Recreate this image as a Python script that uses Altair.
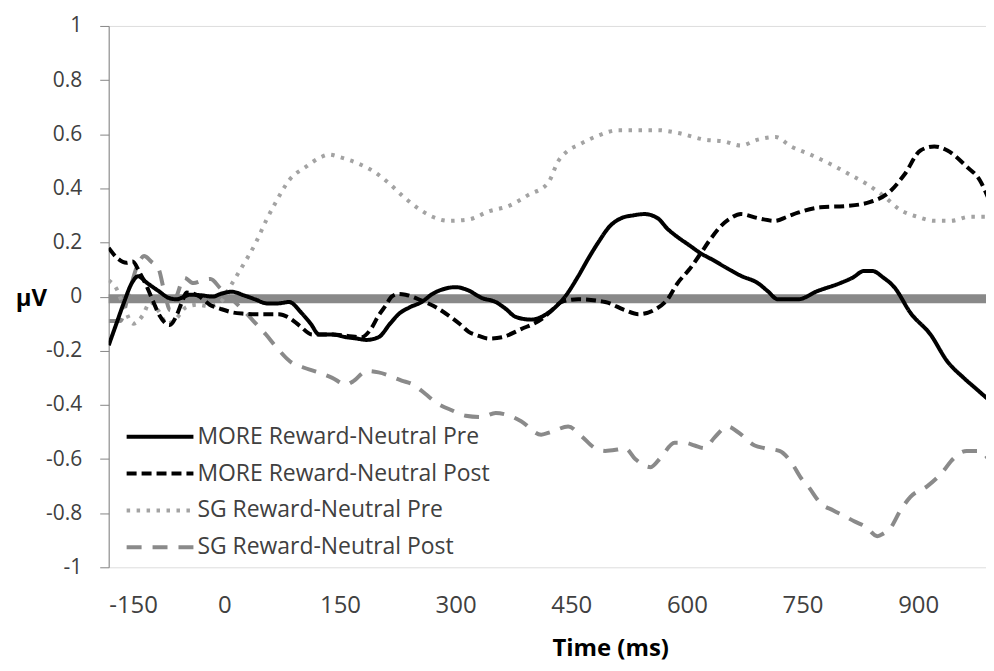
import altair as alt
import pandas as pd

SERIES = ["MORE Reward-Neutral Pre", "MORE Reward-Neutral Post",
          "SG Reward-Neutral Pre", "SG Reward-Neutral Post"]
COLORS = ["#000000", "#000000", "#a3a3a3", "#8a8a8a"]
DASHES = [[1, 0], [10, 5], [3.5, 6.5], [15, 11]]

X_TICKS = [-150, 0, 150, 300, 450, 600, 750, 900]
Y_TICKS = [-1, -0.8, -0.6, -0.4, -0.2, 0, 0.2, 0.4, 0.6, 0.8, 1]
AXIS_LINE_VALUE = [-0.008]

more_pre = [(-150, -0.18), (-140, -0.1), (-130, -0.02), (-120, 0.05), (-112, 0.075), (-100, 0.05),
            (-85, 0.02), (-72, -0.005), (-62, -0.01), (-52, 0.0), (-45, 0.007), (-30, 0.005),
            (-15, 0.0), (-5, 0.01), (10, 0.018), (25, 0.005), (40, -0.01), (55, -0.025),
            (70, -0.025), (84, -0.02), (100, -0.06), (112, -0.1), (123, -0.14), (140, -0.14),
            (158, -0.15), (172, -0.155), (184, -0.16), (200, -0.15), (215, -0.1), (226, -0.065),
            (240, -0.04), (256, -0.02), (270, 0.01), (287, 0.03), (300, 0.035), (315, 0.025),
            (334, -0.005), (352, -0.02), (365, -0.045), (378, -0.075), (398, -0.085), (420, -0.06),
            (442, 0.0), (459, 0.075), (472, 0.14), (485, 0.2), (500, 0.26), (515, 0.29),
            (530, 0.3), (545, 0.305), (562, 0.29), (575, 0.25), (588, 0.22), (603, 0.19),
            (618, 0.16), (634, 0.135), (649, 0.11), (670, 0.077), (692, 0.05), (705, 0.02),
            (718, -0.01), (744, -0.01), (769, 0.02), (799, 0.05), (815, 0.07), (830, 0.095),
            (840, 0.095), (855, 0.07), (869, 0.035), (890, -0.06), (916, -0.14), (938, -0.24),
            (959, -0.30), (975, -0.34), (993, -0.385)]

more_post = [(-150, 0.18), (-138, 0.14), (-127, 0.125), (-119, 0.13), (-110, 0.09), (-101, 0.04),
             (-92, -0.02), (-84, -0.07), (-71, -0.105), (-62, -0.07), (-55, -0.02), (-49, 0.015),
             (-32, 0.0), (-19, -0.03), (-5, -0.045), (10, -0.058), (25, -0.063), (41, -0.065),
             (71, -0.065), (85, -0.08), (97, -0.106), (114, -0.14), (140, -0.14), (160, -0.145),
             (178, -0.15), (190, -0.12), (200, -0.07), (210, -0.03), (217, 0.0), (226, 0.01),
             (235, 0.007), (256, -0.015), (275, -0.04), (291, -0.07), (305, -0.1), (317, -0.13),
             (330, -0.145), (343, -0.155), (360, -0.15), (385, -0.12), (411, -0.084), (425, -0.05),
             (437, -0.02), (459, -0.01), (494, -0.02), (520, -0.05), (537, -0.065), (559, -0.047),
             (575, -0.01), (588, 0.05), (603, 0.1), (618, 0.16), (630, 0.21), (644, 0.26),
             (657, 0.29), (670, 0.305), (692, 0.29), (714, 0.28), (730, 0.295), (744, 0.31),
             (773, 0.33), (808, 0.335), (838, 0.35), (860, 0.38), (882, 0.45), (903, 0.54),
             (921, 0.555), (938, 0.54), (963, 0.48), (980, 0.43), (993, 0.35)]

sg_pre = [(-150, 0.06), (-140, 0.03), (-130, -0.04), (-118, -0.1), (-106, -0.07), (-96, -0.02),
          (-86, -0.05), (-74, -0.1), (-62, -0.08), (-50, -0.04), (-35, -0.03), (-20, -0.035),
          (-5, -0.02), (6, 0.03), (23, 0.11), (41, 0.2), (54, 0.28), (67, 0.35), (84, 0.43),
          (106, 0.48), (125, 0.515), (136, 0.525), (150, 0.515), (175, 0.49), (195, 0.46),
          (213, 0.42), (232, 0.37), (252, 0.325), (270, 0.295), (291, 0.28), (317, 0.285),
          (343, 0.315), (369, 0.335), (394, 0.375), (420, 0.42), (433, 0.5), (446, 0.54),
          (459, 0.56), (485, 0.595), (511, 0.615), (537, 0.615), (562, 0.615), (588, 0.605),
          (623, 0.58), (649, 0.573), (670, 0.558), (692, 0.58), (715, 0.59), (735, 0.555),
          (760, 0.525), (786, 0.49), (812, 0.45), (834, 0.415), (856, 0.37), (877, 0.32),
          (899, 0.295), (921, 0.28), (942, 0.28), (967, 0.295), (993, 0.295)]

sg_post = [(-150, -0.09), (-135, -0.09), (-125, 0.0), (-112, 0.12), (-104, 0.15), (-95, 0.13),
           (-85, 0.1), (-78, 0.02), (-70, -0.05), (-62, 0.0), (-52, 0.07), (-40, 0.05),
           (-28, 0.06), (-18, 0.065), (-5, 0.03), (10, -0.01), (28, -0.06), (41, -0.1),
           (54, -0.14), (67, -0.185), (88, -0.245), (101, -0.26), (127, -0.285), (140, -0.30),
           (158, -0.325), (166, -0.315), (185, -0.275), (200, -0.28), (230, -0.31), (245, -0.325),
           (261, -0.36), (274, -0.39), (295, -0.42), (313, -0.44), (334, -0.445), (352, -0.43),
           (370, -0.44), (385, -0.46), (411, -0.51), (424, -0.5), (446, -0.48), (463, -0.515),
           (481, -0.56), (494, -0.57), (510, -0.565), (520, -0.56), (533, -0.6), (553, -0.63),
           (566, -0.595), (584, -0.54), (597, -0.54), (610, -0.55), (623, -0.56), (636, -0.52),
           (653, -0.48), (666, -0.5), (688, -0.55), (701, -0.56), (720, -0.57), (735, -0.61),
           (748, -0.67), (757, -0.70), (774, -0.765), (790, -0.79), (804, -0.81), (817, -0.83),
           (832, -0.85), (847, -0.885), (855, -0.875), (864, -0.855), (877, -0.79), (890, -0.74),
           (912, -0.70), (934, -0.64), (942, -0.61), (963, -0.57), (980, -0.57), (993, -0.61)]

rows = []
for name, pts in zip(SERIES, [more_pre, more_post, sg_pre, sg_post]):
    for t, v in pts:
        rows.append({"series": name, "t": t, "v": v})
df = pd.DataFrame(rows)

FONT = "Open Sans"
LABEL_COLOR = "#404040"

x_scale = alt.Scale(domain=[-150, 988], nice=False, zero=False)
y_scale = alt.Scale(domain=[-1, 1], nice=False)

legend = alt.Legend(
    orient="none", legendX=16, legendY=399, title=None,
    symbolType="stroke", symbolSize=4489, symbolStrokeWidth=4,
    labelFont=FONT, labelFontSize=23, labelColor=LABEL_COLOR,
    labelOffset=2, rowPadding=11, clipHeight=26, labelLimit=0,
)

x_axis = alt.Axis(
    values=X_TICKS, labelExpr="'' + datum.value", grid=False, domain=False,
    ticks=False, tickSize=0, labelPadding=38, labelBaseline="middle",
    labelFont=FONT, labelFontSize=24, labelColor=LABEL_COLOR,
    title="Time (ms)", titleFont=FONT, titleFontSize=24, titleFontWeight="bold",
    titleColor="#000000", titleX=503, titleY=81, titleBaseline="middle",
    titleAnchor="start", titleAlign="center",
)

y_axis = alt.Axis(
    values=Y_TICKS, labelExpr="'' + datum.value", grid=False,
    domain=True, domainColor="#868686", domainWidth=1,
    ticks=True, tickColor="#868686", tickSize=9, tickWidth=1,
    labelPadding=18, labelFont=FONT, labelFontSize=21, labelColor=LABEL_COLOR,
    title="μV", titleFont=FONT, titleFontSize=24, titleFontWeight="bold",
    titleColor="#000000", titleAngle=0, titleX=-78, titleY=280,
    titleAlign="center", titleBaseline="alphabetic",
)

axis_line = alt.Chart(pd.DataFrame({"v": AXIS_LINE_VALUE})).mark_rule(
    color="#898989", strokeWidth=9
).encode(y=alt.Y("v:Q", scale=y_scale, axis=y_axis))

base = alt.Chart(df).mark_line(clip=True, strokeWidth=4, strokeCap="butt",
                               interpolate="monotone").encode(
    x=alt.X("t:Q", scale=x_scale, axis=x_axis),
    y=alt.Y("v:Q", scale=y_scale, axis=y_axis),
    color=alt.Color("series:N", scale=alt.Scale(domain=SERIES, range=COLORS), legend=legend),
    strokeDash=alt.StrokeDash("series:N", scale=alt.Scale(domain=SERIES, range=DASHES), legend=legend),
)

gray_lines = base.transform_filter(alt.FieldOneOfPredicate(field="series", oneOf=SERIES[2:]))
black_lines = base.transform_filter(alt.FieldOneOfPredicate(field="series", oneOf=SERIES[:2]))

chart = alt.layer(axis_line, gray_lines, black_lines).properties(
    width=880, height=543,
    autosize=alt.AutoSizeParams(type="none"),
    padding={"left": 101, "top": 17, "right": 0, "bottom": 95},
).configure_view(stroke=None).configure(background="white")

chart.save("out.html", embed_options={"renderer": "svg", "actions": False})
